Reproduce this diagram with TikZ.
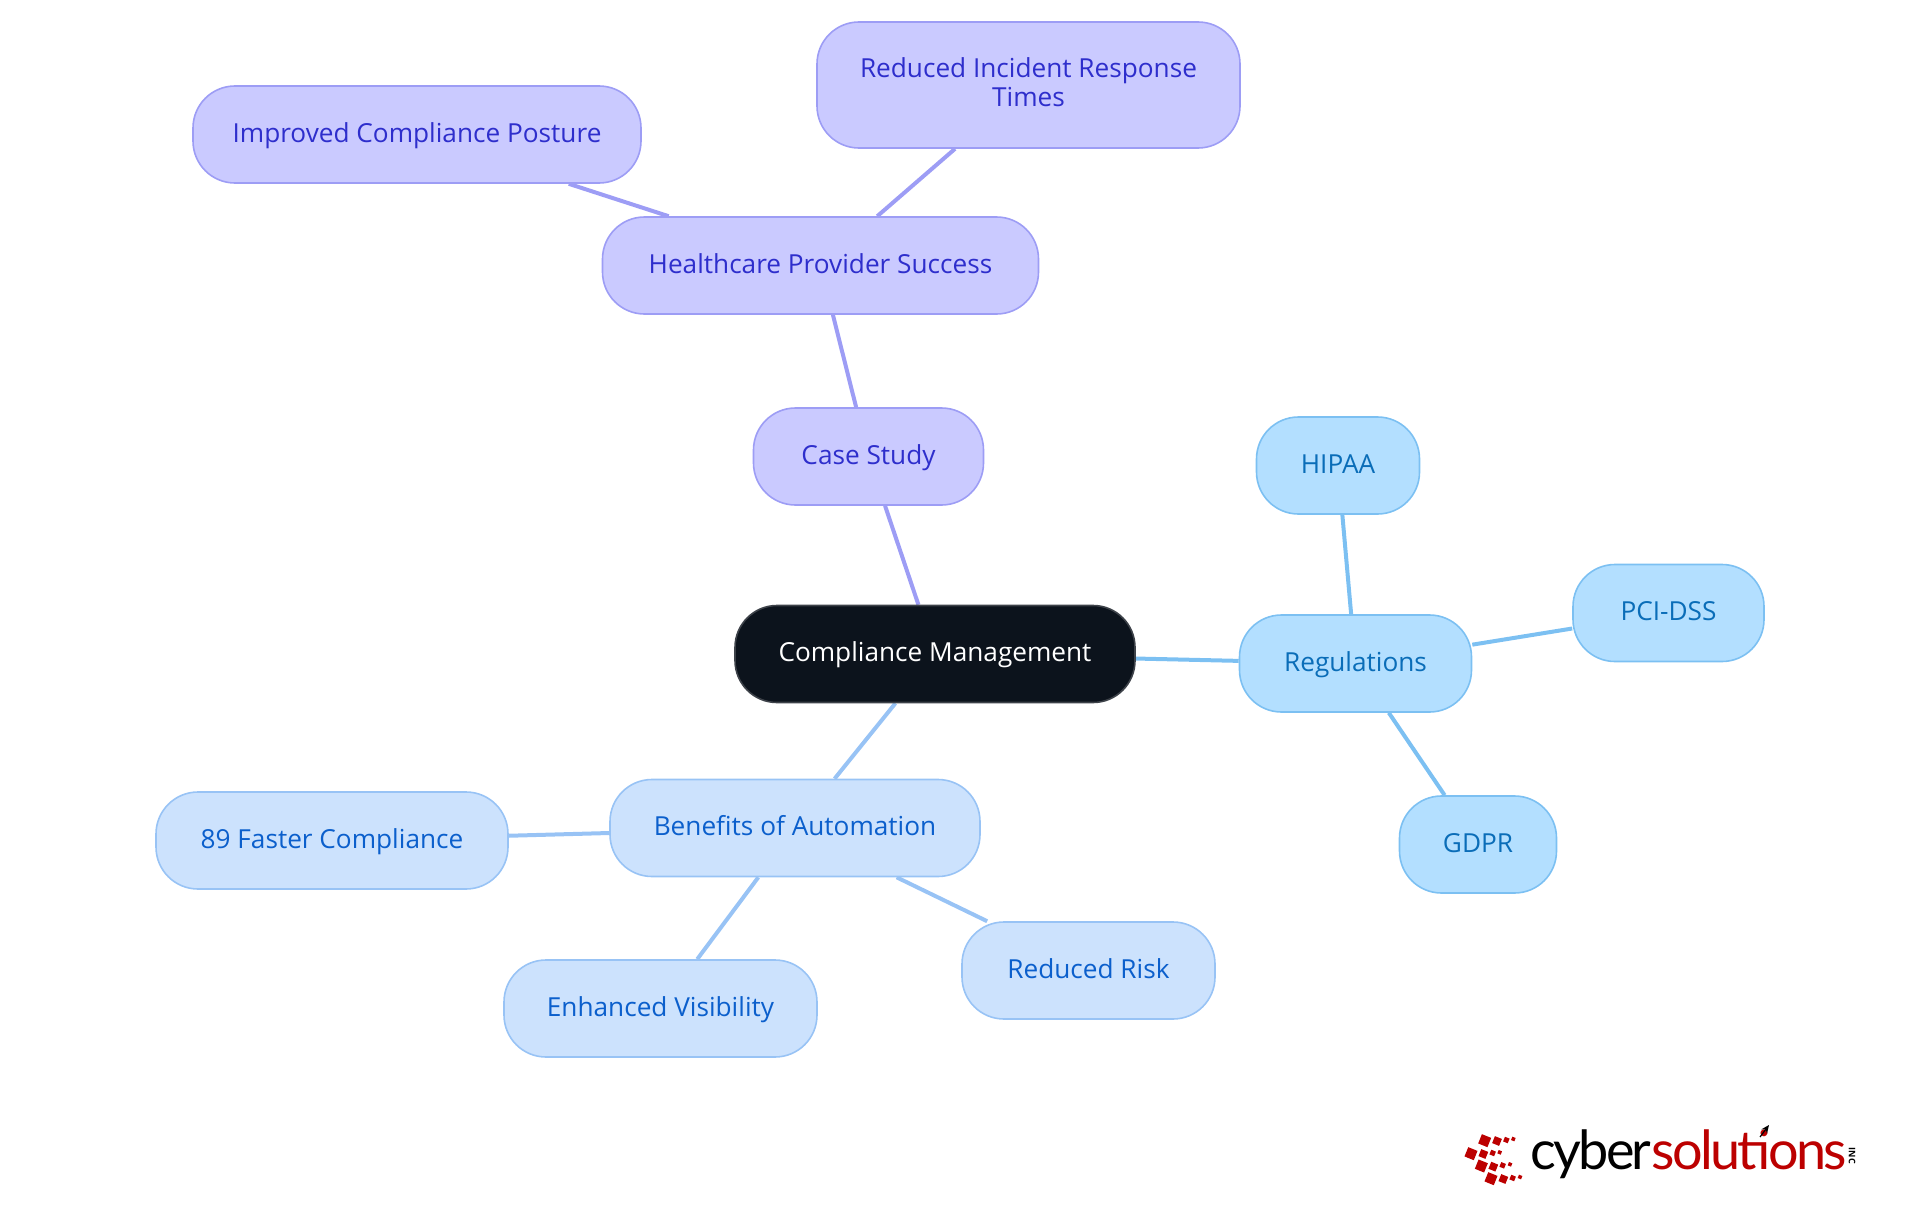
\documentclass[tikz,border=0pt]{standalone}
\usepackage{fontspec}
\setmainfont{Open Sans}
\newfontfamily\logofont{Lato}
\usetikzlibrary{backgrounds,arrows.meta}

\definecolor{rootfill}{HTML}{0C131C}
\definecolor{casefill}{HTML}{CACAFF}
\definecolor{caseline}{HTML}{9D9DF5}
\definecolor{casetext}{HTML}{2E2ECC}
\definecolor{regfill}{HTML}{B3DFFF}
\definecolor{regline}{HTML}{7CC0F2}
\definecolor{regtext}{HTML}{0A6DB8}
\definecolor{benefill}{HTML}{CCE2FD}
\definecolor{beneline}{HTML}{98C3F5}
\definecolor{benetext}{HTML}{0B5FCC}
\definecolor{logored}{HTML}{BC0000}

\tikzset{
    mapnode/.style={draw, line width=1.6pt, rounded corners=42pt, minimum height=97pt, inner sep=0pt,
        text height=20pt, text depth=5pt, font=\fontsize{26.2}{29}\selectfont},
    rootnode/.style={mapnode, fill=rootfill, draw=rootfill!80!white, text=white},
    casenode/.style={mapnode, fill=casefill, draw=caseline, text=casetext},
    regnode/.style={mapnode, fill=regfill, draw=regline, text=regtext},
    benenode/.style={mapnode, fill=benefill, draw=beneline, text=benetext},
    caselink/.style={draw=caseline, line width=4pt},
    reglink/.style={draw=regline, line width=4pt},
    benelink/.style={draw=beneline, line width=4pt},
}

\begin{document}
\begin{tikzpicture}[x=1pt,y=-1pt]
    \useasboundingbox (0,0) rectangle (1920,1215);

    \node[rootnode, minimum width=400pt] (compliance) at (935,654) {Compliance Management};

    \node[casenode, minimum width=230pt] (casestudy) at (868.5,456.5) {Case Study};
    \node[casenode, minimum width=436pt] (healthcare) at (820.5,265.5) {Healthcare Provider Success};
    \node[casenode, minimum width=423pt, minimum height=126pt, align=center, text height=, text depth=5.5pt]
        (incident) at (1028.5,85) {Reduced Incident Response\\Times};
    \node[casenode, minimum width=448pt] (posture) at (417,134.5) {Improved Compliance Posture};

    \node[regnode, minimum width=232pt] (regulations) at (1355.5,663.5) {Regulations};
    \node[regnode, minimum width=163pt] (hipaa) at (1338,465.5) {HIPAA};
    \node[regnode, minimum width=191pt] (pcidss) at (1668.5,613) {PCI-DSS};
    \node[regnode, minimum width=157pt] (gdpr) at (1478,844.5) {GDPR};

    \node[benenode, minimum width=370pt] (benefits) at (795,828) {Benefits of Automation};
    \node[benenode, minimum width=352pt] (faster) at (332,840.5) {89 Faster Compliance};
    \node[benenode, minimum width=313pt] (visibility) at (660.5,1008.5) {Enhanced Visibility};
    \node[benenode, minimum width=253pt] (risk) at (1088.5,970.5) {Reduced Risk};

    \begin{pgfonlayer}{background}
        \draw[caselink] (compliance) -- (casestudy);
        \draw[caselink] (casestudy) -- (healthcare);
        \draw[caselink] (healthcare) -- (incident);
        \draw[caselink] (healthcare) -- (posture);

        \draw[reglink] (compliance) -- (regulations);
        \draw[reglink] (regulations) -- (hipaa);
        \draw[reglink] (regulations) -- (pcidss);
        \draw[reglink] (regulations) -- (gdpr);

        \draw[benelink] (compliance) -- (benefits);
        \draw[benelink] (benefits) -- (faster);
        \draw[benelink] (benefits) -- (visibility);
        \draw[benelink] (benefits) -- (risk);
    \end{pgfonlayer}

    % logo
    \foreach \px/\py/\side in {
        104/62/10, 141/63/7.5, 169/60/5, 190/57/3.6,
        63/101/10, 100/102/7.5, 128/99/5, 149/97/3.6,
        94/138/10, 130/140/7.5, 158/136/5, 180/133/3.6,
        123/176/10, 160/177/7.5, 188/174/5, 210/171/3.6}
        \fill[logored, shift={(1450+\px/3,1120+\py/3)}, rotate=-22] (-\side/2,-\side/2) rectangle (\side/2,\side/2);

    \node[anchor=base west, inner sep=0pt, font=\logofont\fontsize{54}{54}\selectfont] (logotext) at (1530,1169)
        {\addfontfeatures{LetterSpace=-5}cyber\textcolor{logored}{solutions}};
    \node[rotate=-90, inner sep=0pt, font=\bfseries\fontsize{9}{9}\selectfont] (logoinc) at (1852,1156) {INC};
    \coordinate (arrowfoot) at (1760,1137);
    \coordinate (arrowtip) at (1769,1125);
    \draw[line width=1.2pt, -{Stealth[length=8pt,width=7pt]}] (arrowfoot) -- (arrowtip);
\end{tikzpicture}
\end{document}
